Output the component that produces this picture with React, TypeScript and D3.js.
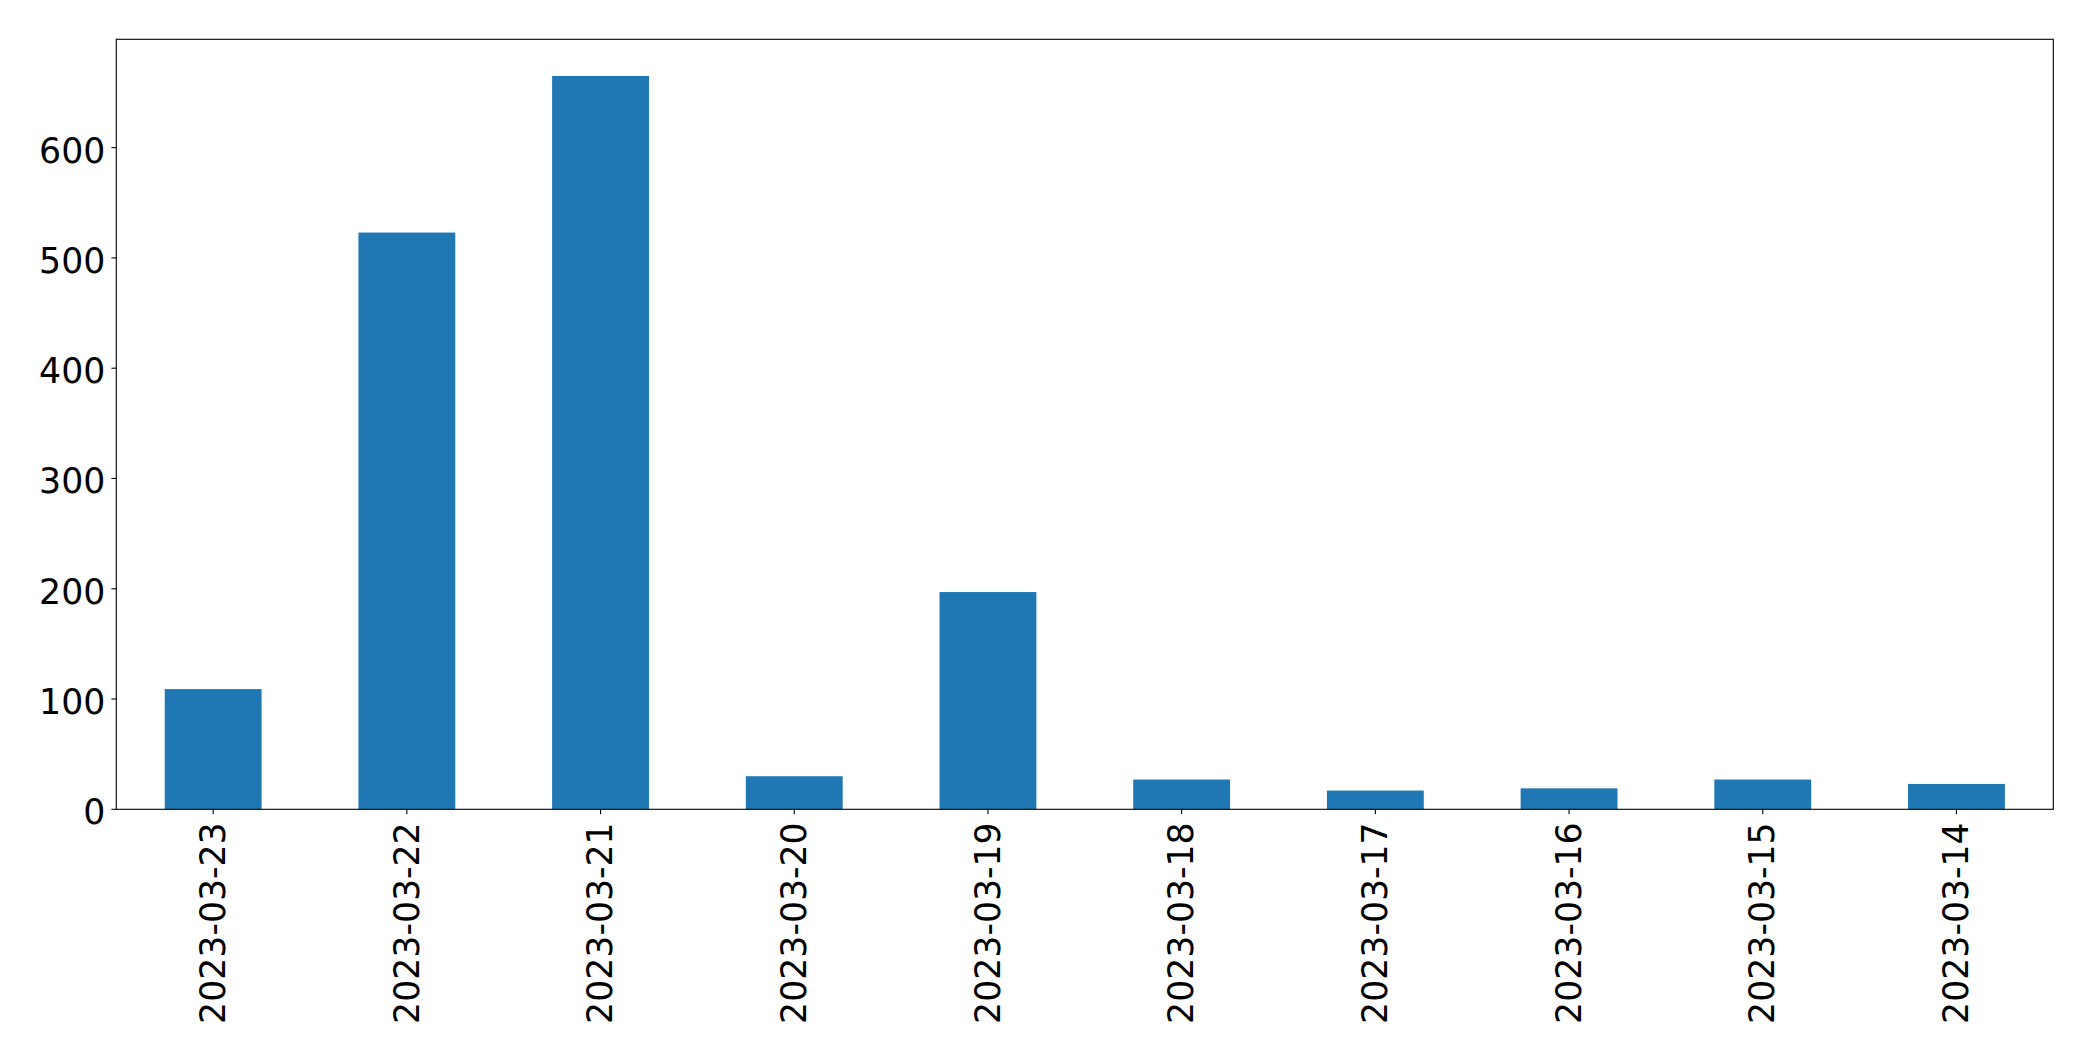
import React, { useEffect, useRef } from "react";
import * as d3 from "d3";

const categories = [
  "2023-03-23",
  "2023-03-22",
  "2023-03-21",
  "2023-03-20",
  "2023-03-19",
  "2023-03-18",
  "2023-03-17",
  "2023-03-16",
  "2023-03-15",
  "2023-03-14",
];
const values = [109, 523, 665, 30, 197, 27, 17, 19, 27, 23];
const yTicks = [0, 100, 200, 300, 400, 500, 600];

const W = 2093;
const H = 1061;
const left = 116.3;
const right = 2053.3;
const top = 39.3;
const bottom = 809.3;
const FONT = "'DejaVu Sans', sans-serif";
const FS = 34.7;

export default function App() {
  const ref = useRef<SVGSVGElement | null>(null);

  useEffect(() => {
    const svg = d3.select(ref.current);
    svg.selectAll("*").remove();

    const x = d3
      .scaleBand<string>()
      .domain(categories)
      .range([left, right])
      .paddingInner(0.5)
      .paddingOuter(0.25);
    const y = d3
      .scaleLinear()
      .domain([0, (d3.max(values) as number) * 1.05])
      .range([bottom, top]);

    svg
      .append("rect")
      .attr("x", 0)
      .attr("y", 0)
      .attr("width", W)
      .attr("height", H)
      .attr("fill", "white");

    svg
      .append("g")
      .selectAll("rect")
      .data(values)
      .join("rect")
      .attr("x", (_d, i) => x(categories[i]) as number)
      .attr("y", (d) => y(d))
      .attr("width", x.bandwidth())
      .attr("height", (d) => bottom - y(d))
      .attr("fill", "#1f77b4");

    // frame
    svg
      .append("rect")
      .attr("x", left)
      .attr("y", top)
      .attr("width", right - left)
      .attr("height", bottom - top)
      .attr("fill", "none")
      .attr("stroke", "black")
      .attr("stroke-width", 1.1);

    // y ticks
    const yg = svg.append("g");
    yTicks.forEach((t) => {
      const yy = y(t);
      yg.append("line")
        .attr("x1", left - 4.9)
        .attr("x2", left)
        .attr("y1", yy)
        .attr("y2", yy)
        .attr("stroke", "black")
        .attr("stroke-width", 1.1);
      yg.append("text")
        .attr("x", left - 11)
        .attr("y", yy + 15)
        .attr("text-anchor", "end")
        .attr("font-family", FONT)
        .attr("font-size", FS)
        .attr("fill", "black")
        .text(String(t));
    });

    // x ticks
    const xg = svg.append("g");
    categories.forEach((c) => {
      const cx = (x(c) as number) + x.bandwidth() / 2;
      xg.append("line")
        .attr("x1", cx)
        .attr("x2", cx)
        .attr("y1", bottom)
        .attr("y2", bottom + 4.9)
        .attr("stroke", "black")
        .attr("stroke-width", 1.1);
      xg.append("text")
        .attr("transform", `translate(${cx + 11.7},${bottom + 13}) rotate(-90)`)
        .attr("text-anchor", "end")
        .attr("font-family", FONT)
        .attr("font-size", FS)
        .attr("fill", "black")
        .text(c);
    });
  }, []);

  return (
    <svg
      ref={ref}
      width={W}
      height={H}
      style={{ position: "absolute", left: 0, top: 0, display: "block" }}
    />
  );
}
